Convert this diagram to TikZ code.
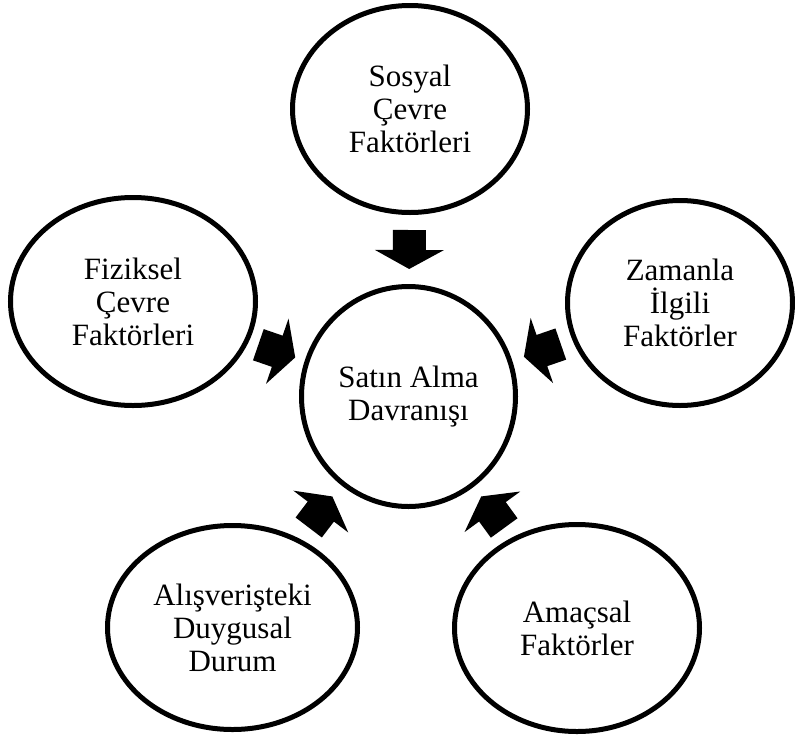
\documentclass[tikz,border=0pt]{standalone}
\usepackage{fontspec}
\setmainfont{Liberation Serif}
\usetikzlibrary{shapes.geometric}
\begin{document}
\begin{tikzpicture}[x=1pt,y=-1pt,
  factor/.style={draw, line width=5pt, ellipse, inner sep=0pt, align=center,
    font=\fontsize{31}{33}\selectfont},
  blockarrow/.pic={\fill (-19.5,-16.5) -- (0.5,-16.5) -- (0.5,-34.5) -- (19.5,0)
      -- (0.5,34.5) -- (0.5,16.5) -- (-19.5,16.5) -- cycle;},
  feed/.style={pos=0.5, sloped, allow upside down}
]
\useasboundingbox (0,0) rectangle (795,734);

% factor ellipses
\node[factor, minimum width=235pt, minimum height=207pt] (sosyal) at (410,109) {Sosyal\\Çevre\\Faktörleri};
\node[factor, minimum width=245pt, minimum height=208pt] (fiziksel) at (133,301.5) {Fiziksel\\Çevre\\Faktörleri};
\node[factor, minimum width=225pt, minimum height=205pt] (zaman) at (680,303) {Zamanla\\İlgili\\Faktörler};
\node[factor, minimum width=250pt, minimum height=204pt] (duygu) at (232.5,627.5) {Alışverişteki\\Duygusal\\Durum};
\node[factor, minimum width=245pt, minimum height=207pt] (amac) at (577,628) {Amaçsal\\Faktörler};

% central behaviour
\node[factor, minimum width=214pt, minimum height=220pt] (satin) at (408.5,396.5) {Satın Alma\\Davranışı};

% block arrows into the centre
\foreach \src in {sosyal,fiziksel,zaman,duygu,amac}
  \path (\src) -- pic[feed] {blockarrow} (satin);
\end{tikzpicture}
\end{document}
